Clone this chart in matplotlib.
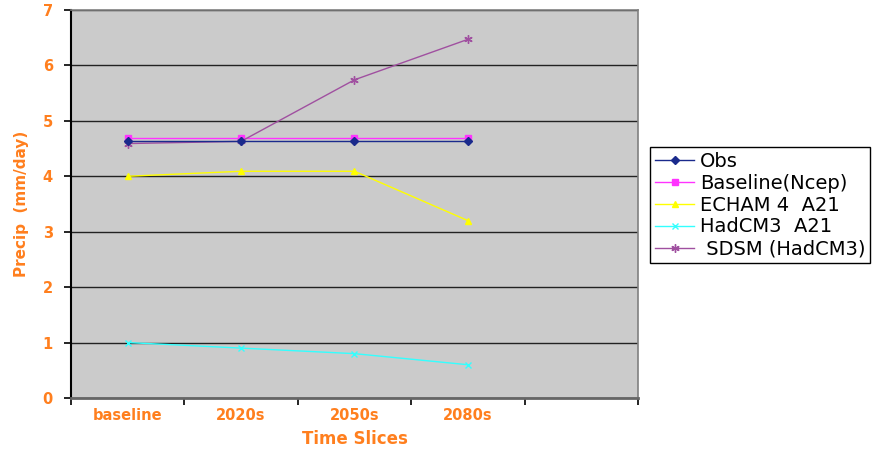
import numpy as np
import matplotlib.pyplot as plt
from matplotlib.ticker import FixedLocator, NullFormatter

plt.rcParams['font.family'] = ['DejaVu Sans']

slices = ['baseline', '2020s', '2050s', '2080s']
obs = [4.63, 4.63, 4.63, 4.63]
baseline_ncep = [4.69, 4.69, 4.69, 4.69]
echam4_a21 = [4.0, 4.09, 4.09, 3.2]
hadcm3_a21 = [1.0, 0.9, 0.8, 0.6]
sdsm_hadcm3 = [4.59, 4.63, 5.74, 6.47]

orange = '#FF7F1E'

fig = plt.figure(figsize=(8.92, 4.49), dpi=100)
ax = fig.add_axes([0.0796, 0.1136, 0.6356, 0.8642])
ax.set_facecolor('#CBCBCB')

x = np.arange(len(slices))
ax.plot(x, obs, color='#1A2A8C', marker='D', markersize=4, lw=1.0, label='Obs', zorder=5)
ax.plot(x, baseline_ncep, color='#FF33FF', marker='s', markersize=5, lw=1.0, label='Baseline(Ncep)', zorder=4)
ax.plot(x, echam4_a21, color='#FFFF00', marker='^', markersize=5, lw=1.0, label='ECHAM 4  A21', zorder=4)
ax.plot(x, hadcm3_a21, color='#33FFFF', marker='x', markersize=5, lw=1.0, label='HadCM3  A21', zorder=4)
ax.plot(x, sdsm_hadcm3, color='#A050A0', marker=(6, 2, 0), markersize=6, lw=1.0, label=' SDSM (HadCM3)', zorder=4)

ax.set_ylim(0, 7)
ax.set_yticks(np.arange(0, 8, 1))
ax.yaxis.grid(True, color='#222222', lw=1.0)
ax.set_axisbelow(True)

ax.set_xlim(-0.5, 4.5)
ax.xaxis.set_major_locator(FixedLocator(np.arange(-0.5, 5.0, 1.0)))
ax.xaxis.set_major_formatter(NullFormatter())
ax.set_xticks(x, minor=True)
ax.set_xticklabels(slices, minor=True)
ax.tick_params(axis='x', which='minor', length=0, pad=7)
ax.tick_params(axis='both', which='major', direction='out', length=5, width=1.2, color='black')
for lab in ax.get_xticklabels(minor=True) + ax.get_yticklabels():
    lab.set_color(orange)
    lab.set_fontweight('bold')
    lab.set_fontsize(10.5)
ax.tick_params(axis='y', pad=8)

for side in ['top', 'right']:
    ax.spines[side].set_color('#808080')
    ax.spines[side].set_linewidth(1.2)
ax.spines['bottom'].set_color('#666666')
ax.spines['bottom'].set_linewidth(2)
ax.spines['left'].set_color('black')
ax.spines['left'].set_linewidth(1.5)

ax.set_xlabel('Time Slices', color=orange, fontweight='bold', fontsize=12, labelpad=5)
ax.set_ylabel('Precip  (mm/day)', color=orange, fontweight='bold', fontsize=11, labelpad=10)

leg = fig.legend(loc='upper left', bbox_to_anchor=(0.729, 0.673), fontsize=14,
                 frameon=True, fancybox=False, framealpha=1, edgecolor='black',
                 handlelength=2.0, labelspacing=0.15, borderpad=0.25,
                 handletextpad=0.3, borderaxespad=0)
leg.get_frame().set_linewidth(1.0)

fig.savefig('out.png', dpi=100)
